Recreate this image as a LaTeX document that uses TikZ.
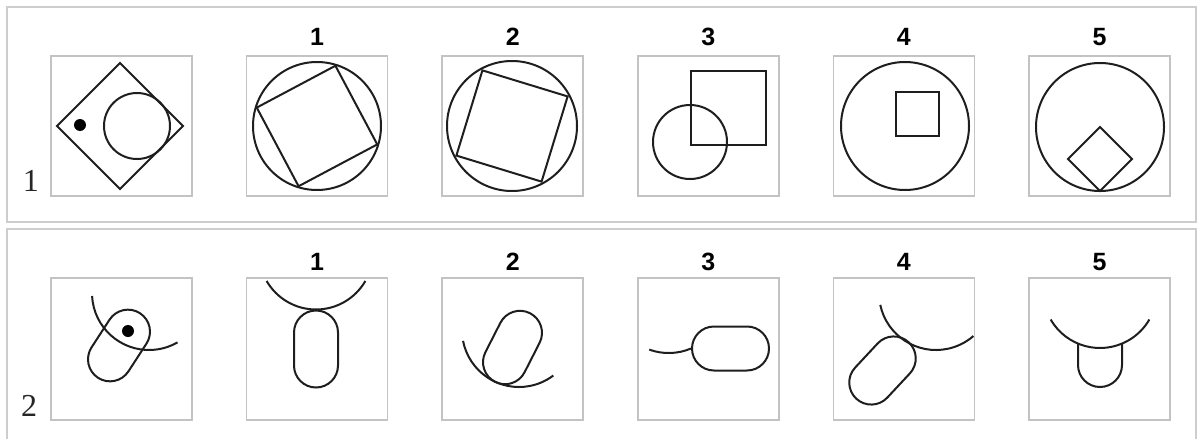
\documentclass[tikz,border=0pt]{standalone}
\usepackage{fontspec}
\setmainfont{Liberation Serif}
\setsansfont{Liberation Sans}
\usepackage{xcolor}
\definecolor{panelgray}{RGB}{205,205,205}
\definecolor{cellgray}{RGB}{195,195,195}
\definecolor{inkgray}{RGB}{30,30,30}
\usepackage{tikz}
\usetikzlibrary{calc,shapes.misc}
\tikzset{
  panel/.style  ={draw=panelgray,line width=1.8pt},
  cell/.style   ={draw=cellgray,line width=1.7pt},
  figline/.style={draw=inkgray,line width=2pt},
  pill/.style   ={rounded rectangle,draw=inkgray,line width=2pt,
                  minimum width=77pt,minimum height=44pt,inner sep=0pt},
  colnum/.style ={font=\sffamily\bfseries\fontsize{25}{25}\selectfont},
  rownum/.style ={font=\fontsize{32}{32}\selectfont,text=black!85},
  blob/.style   ={fill=black},
}
\begin{document}
\begin{tikzpicture}[x=1pt,y=-1pt]
  \useasboundingbox (0,0) rectangle (1197,439);
  % panels and cells
  \draw[panel] (7,7) rectangle (1196,222);
  \draw[panel] (7,229) rectangle (1196,450);
  \foreach \i in {0,...,5}{
    \draw[cell] ({51+195.6*\i},56) rectangle ++(141,140);
    \draw[cell] ({51+195.6*\i},278) rectangle ++(141,142);
  }
  \foreach \i in {1,...,5}{
    \node[colnum] (topnum\i) at ({121.5+195.6*\i},37) {\i};
    \node[colnum] (botnum\i) at ({121.5+195.6*\i},262) {\i};
  }
  \node[rownum] (row1) at (31,181) {1};
  \node[rownum] (row2) at (29,406) {2};
  % row 1: question
  \draw[figline] (120,63) -- (183,126) -- (120,189) -- (57,126) -- cycle;
  \draw[figline] (137,126) circle[radius=33];
  \fill[blob] (80,125) circle[radius=6];
  % row 1: answers
  \coordinate (ca1) at (317,126);
  \draw[figline] (ca1) circle[radius=64];
  \draw[figline] ($(ca1)+(-73:63)$) -- ($(ca1)+(17:63)$) -- ($(ca1)+(107:63)$)
                 -- ($(ca1)+(197:63)$) -- cycle;
  \coordinate (ca2) at (512,126);
  \draw[figline] (ca2) circle[radius=65];
  \draw[figline] ($(ca2)+(-118:63)$) -- ($(ca2)+(-28:63)$) -- ($(ca2)+(62:63)$)
                 -- ($(ca2)+(152:63)$) -- cycle;
  \draw[figline] (691,71) rectangle (766,145);
  \draw[figline] (690,142) circle[radius=37];
  \draw[figline] (905,126) circle[radius=64];
  \draw[figline] (896,92) rectangle (939,136);
  \draw[figline] (1100,127) circle[radius=64];
  \draw[figline] (1100,127) -- (1132,159) -- (1100,191) -- (1068,159) -- cycle;
  % row 2: question
  \node[pill,rotate=57] (q2) at (119,345.5) {};
  \fill[blob] (128,331) circle[radius=6];
  \draw[figline] (149,293) ++(177:57) arc[start angle=177,end angle=60,radius=57];
  % row 2: answers
  \node[pill,rotate=90] (p1) at (316,349) {};
  \draw[figline] (p1.east) arc[start angle=90,end angle=150,radius=57]
                 (p1.east) arc[start angle=90,end angle=30,radius=57];
  \node[pill,rotate=63] (p2) at (512.5,347.5) {};
  \draw[figline] (519,330) ++(169:57) arc[start angle=169,end angle=53,radius=57];
  \node[pill] (p3) at (730.5,348.5) {};
  \draw[figline] (p3.west) arc[start angle=67,end angle=110,radius=57];
  \node[pill,rotate=47] (p4) at (882.5,370.5) {};
  \draw[figline] (936,293) ++(168:57) arc[start angle=168,end angle=49,radius=57];
  \draw[figline] (1100,291) ++(150:57) arc[start angle=150,end angle=30,radius=57];
  \draw[figline] (1078,343.6) -- (1078,365) arc[start angle=180,end angle=0,radius=22]
                 -- (1122,343.6);
\end{tikzpicture}
\end{document}
